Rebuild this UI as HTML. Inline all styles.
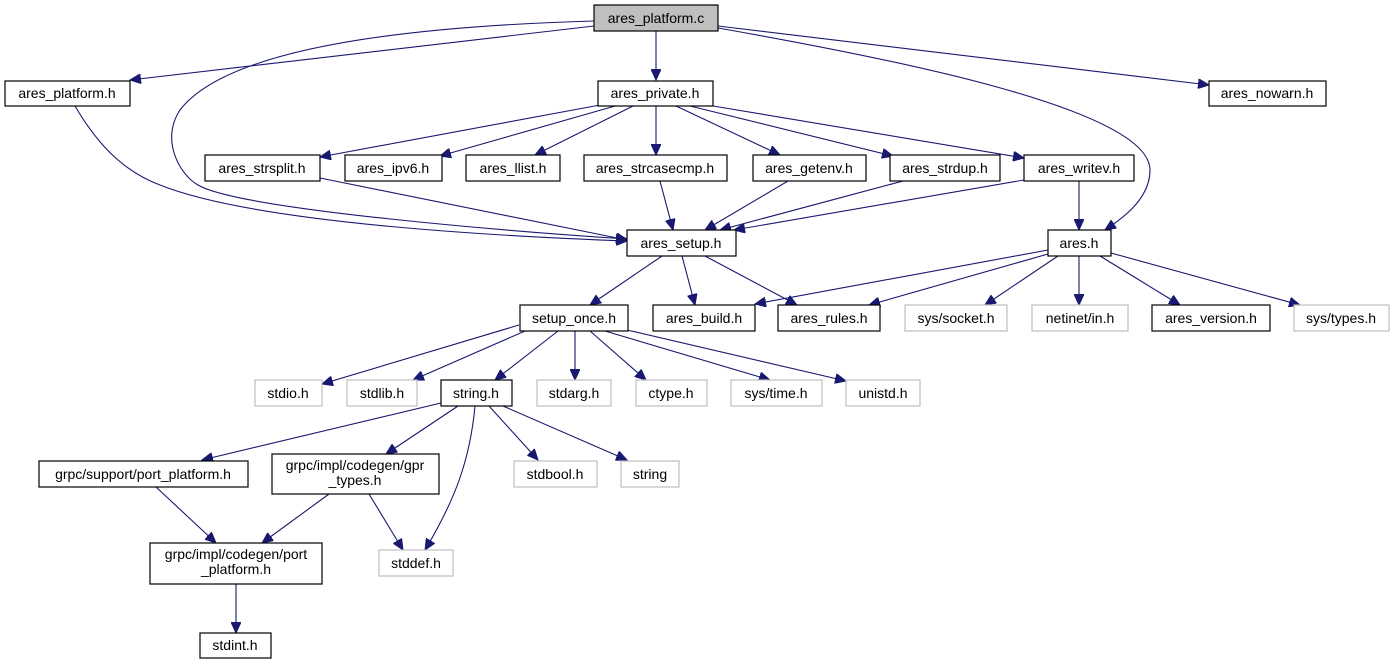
<!DOCTYPE html>
<html><head><meta charset="utf-8"><style>
html,body{margin:0;padding:0;background:#fff;}
svg{display:block;}
text{font-family:"Liberation Sans",sans-serif;font-size:14px;text-anchor:middle;fill:#000;}
.n{fill:#fff;stroke:#000;stroke-width:1.2;}
.g{fill:#fff;stroke:#bfbfbf;stroke-width:1.2;}
.e{fill:none;stroke:#191970;stroke-width:1.1;}
</style></head><body>
<svg width="1395" height="664" viewBox="0 0 1395 664" xmlns="http://www.w3.org/2000/svg">
<defs><marker id="a" markerUnits="userSpaceOnUse" markerWidth="12" markerHeight="10" refX="11" refY="5" orient="auto"><path d="M0,0 L11,5 L0,10 Z" fill="#191970" stroke="#191970"/></marker></defs>
<g marker-end="url(#a)">
<path class="e" d="M594,26 L130,80"/>
<path class="e" d="M594,21 C420,26 230,45 180,110 C160,140 180,175 198,185 C240,210 520,232 627,239"/>
<path class="e" d="M75,106 C95,140 120,170 160,185 C260,225 520,237 627,241"/>
<path class="e" d="M656,31 L656,80"/>
<path class="e" d="M718,26 L1209,85"/>
<path class="e" d="M718,28 C900,60 1150,110 1150,170 C1150,200 1120,220 1105,230"/>
<path class="e" d="M600,105 L320,157"/>
<path class="e" d="M615,106 L440,156"/>
<path class="e" d="M633,106 L535,155"/>
<path class="e" d="M656,106 L656,155"/>
<path class="e" d="M676,106 L780,155"/>
<path class="e" d="M690,106 L893,156"/>
<path class="e" d="M713,106 L1024,158"/>
<path class="e" d="M320,178 L627,240"/>
<path class="e" d="M660,181 L673,230"/>
<path class="e" d="M788,181 L705,230"/>
<path class="e" d="M903,181 L720,230"/>
<path class="e" d="M1024,180 L734,230"/>
<path class="e" d="M1079,181 L1079,230"/>
<path class="e" d="M662,256 L590,305"/>
<path class="e" d="M682,256 L695,305"/>
<path class="e" d="M705,256 L797,305"/>
<path class="e" d="M1048,250 L755,304"/>
<path class="e" d="M1048,254 L869,305"/>
<path class="e" d="M1058,256 L985,305"/>
<path class="e" d="M1079,256 L1079,305"/>
<path class="e" d="M1100,256 L1180,305"/>
<path class="e" d="M1111,253 L1300,305"/>
<path class="e" d="M519,325 L322,384"/>
<path class="e" d="M525,331 L413,380"/>
<path class="e" d="M558,331 L495,380"/>
<path class="e" d="M575,331 L575,380"/>
<path class="e" d="M590,331 L646,380"/>
<path class="e" d="M605,331 L770,380"/>
<path class="e" d="M627,330 L846,381"/>
<path class="e" d="M441,403 L202,460"/>
<path class="e" d="M458,406 L386,454"/>
<path class="e" d="M475,406 C470,460 455,500 425,550"/>
<path class="e" d="M489,406 L538,460"/>
<path class="e" d="M503,406 L627,460"/>
<path class="e" d="M156,487 L216,543"/>
<path class="e" d="M329,494 L262,543"/>
<path class="e" d="M369,494 L403,550"/>
<path class="e" d="M236,584 L236,633"/>
</g>
<rect x="594" y="5" width="124" height="26" fill="#bfbfbf" stroke="#000" stroke-width="1.2"/><text x="656" y="23">ares_platform.c</text>
<rect class="n" x="5" y="81" width="125" height="25"/><text x="67" y="98">ares_platform.h</text>
<rect class="n" x="598" y="81" width="115" height="25"/><text x="655" y="98">ares_private.h</text>
<rect class="n" x="1209" y="81" width="117" height="25"/><text x="1267" y="98">ares_nowarn.h</text>
<rect class="n" x="205" y="155" width="115" height="26"/><text x="262" y="173">ares_strsplit.h</text>
<rect class="n" x="345" y="155" width="97" height="26"/><text x="393" y="173">ares_ipv6.h</text>
<rect class="n" x="466" y="155" width="94" height="26"/><text x="513" y="173">ares_llist.h</text>
<rect class="n" x="584" y="155" width="143" height="26"/><text x="655" y="173">ares_strcasecmp.h</text>
<rect class="n" x="753" y="155" width="113" height="26"/><text x="809" y="173">ares_getenv.h</text>
<rect class="n" x="890" y="155" width="110" height="26"/><text x="945" y="173">ares_strdup.h</text>
<rect class="n" x="1024" y="155" width="110" height="26"/><text x="1079" y="173">ares_writev.h</text>
<rect class="n" x="627" y="230" width="109" height="26"/><text x="681" y="248">ares_setup.h</text>
<rect class="n" x="1048" y="230" width="63" height="26"/><text x="1079" y="248">ares.h</text>
<rect class="n" x="520" y="305" width="108" height="26"/><text x="574" y="323">setup_once.h</text>
<rect class="n" x="653" y="305" width="102" height="26"/><text x="704" y="323">ares_build.h</text>
<rect class="n" x="778" y="305" width="102" height="26"/><text x="829" y="323">ares_rules.h</text>
<rect class="g" x="905" y="305" width="102" height="26"/><text x="956" y="323">sys/socket.h</text>
<rect class="g" x="1032" y="305" width="96" height="26"/><text x="1080" y="323">netinet/in.h</text>
<rect class="n" x="1152" y="305" width="118" height="26"/><text x="1211" y="323">ares_version.h</text>
<rect class="g" x="1294" y="305" width="95" height="26"/><text x="1341" y="323">sys/types.h</text>
<rect class="g" x="255" y="380" width="67" height="26"/><text x="288" y="398">stdio.h</text>
<rect class="g" x="347" y="380" width="70" height="26"/><text x="382" y="398">stdlib.h</text>
<rect class="n" x="441" y="380" width="71" height="26"/><text x="476" y="398">string.h</text>
<rect class="g" x="537" y="380" width="74" height="26"/><text x="574" y="398">stdarg.h</text>
<rect class="g" x="636" y="380" width="71" height="26"/><text x="671" y="398">ctype.h</text>
<rect class="g" x="731" y="380" width="91" height="26"/><text x="776" y="398">sys/time.h</text>
<rect class="g" x="846" y="380" width="74" height="26"/><text x="883" y="398">unistd.h</text>
<rect class="n" x="39" y="461" width="209" height="26"/><text x="143" y="479">grpc/support/port_platform.h</text>
<rect class="n" x="272" y="454" width="167" height="40"/><text x="355" y="470">grpc/impl/codegen/gpr</text><text x="355" y="485">_types.h</text>
<rect class="g" x="514" y="461" width="83" height="26"/><text x="555" y="479">stdbool.h</text>
<rect class="g" x="621" y="461" width="58" height="26"/><text x="650" y="479">string</text>
<rect class="n" x="150" y="543" width="172" height="41"/><text x="236" y="559">grpc/impl/codegen/port</text><text x="236" y="574">_platform.h</text>
<rect class="g" x="379" y="550" width="74" height="26"/><text x="416" y="568">stddef.h</text>
<rect class="n" x="200" y="633" width="71" height="25"/><text x="235" y="650">stdint.h</text>
</svg>
</body></html>
